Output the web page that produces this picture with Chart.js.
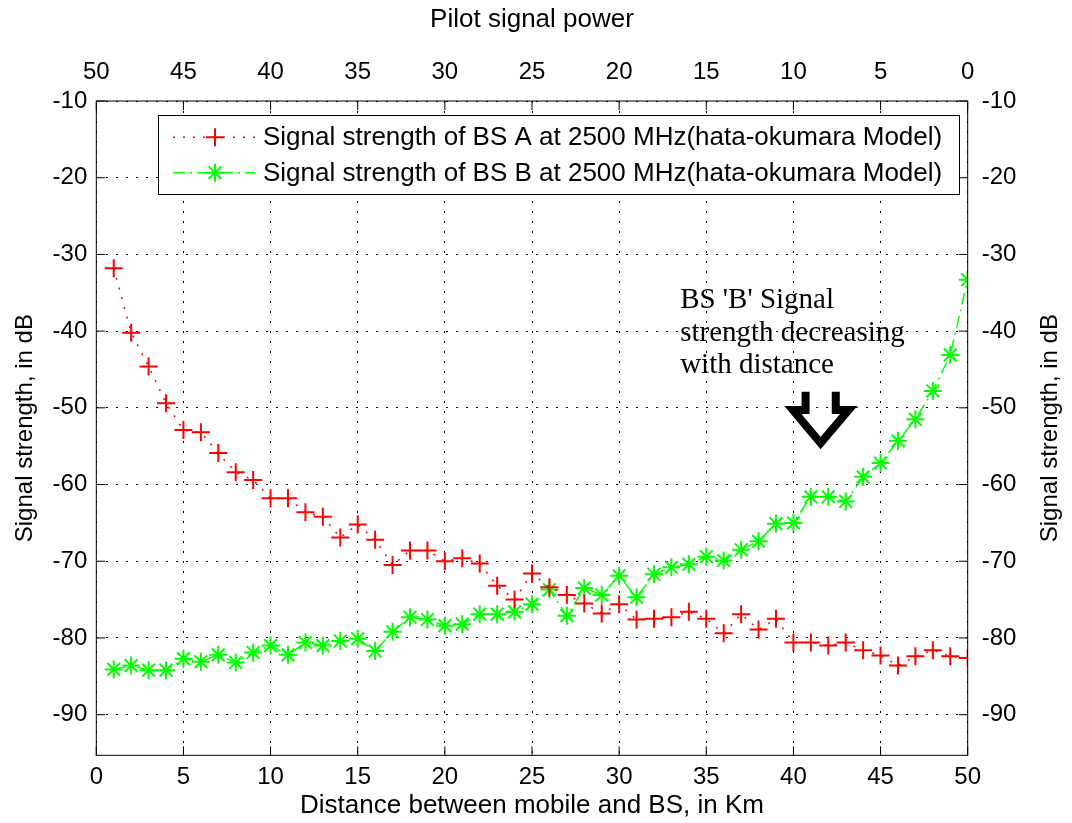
<!DOCTYPE html>
<html>
<head>
<meta charset="utf-8">
<script src="https://cdn.jsdelivr.net/npm/chart.js@4/dist/chart.umd.min.js"></script>
<style>
html,body{margin:0;padding:0;background:#fff;}
#wrap{width:1072px;height:823px;position:relative;}
</style>
</head>
<body>
<div id="wrap"><canvas id="c" width="1072" height="823"></canvas></div>
<script>
// ---------------- data ----------------
const distanceKm = [1,2,3,4,5,6,7,8,9,10,11,12,13,14,15,16,17,18,19,20,21,22,23,24,25,26,27,28,29,30,31,32,33,34,35,36,37,38,39,40,41,42,43,44,45,46,47,48,49,50];
const bsA = [-31.8,-40.2,-44.6,-49.4,-52.9,-53.2,-55.9,-58.4,-59.4,-61.8,
             -61.8,-63.6,-64.2,-66.9,-65.2,-67.2,-70.5,-68.6,-68.6,-70.0,
             -69.6,-70.3,-73.2,-75.0,-71.6,-73.4,-74.4,-75.5,-76.8,-75.6,
             -77.6,-77.5,-77.3,-76.6,-77.5,-79.4,-76.9,-78.9,-77.5,-80.6,
             -80.6,-81.0,-80.6,-81.6,-82.3,-83.6,-82.4,-81.6,-82.4,-82.6];
const bsB = [-84.1,-83.6,-84.2,-84.2,-82.7,-83.1,-82.2,-83.2,-81.9,-81.0,
             -82.2,-80.6,-81.0,-80.4,-80.1,-81.7,-79.2,-77.3,-77.6,-78.4,
             -78.2,-76.9,-76.9,-76.6,-75.6,-73.7,-77.1,-73.5,-74.4,-71.9,
             -74.7,-71.7,-70.8,-70.4,-69.4,-69.9,-68.5,-67.4,-65.1,-65.0,
             -61.6,-61.6,-62.2,-59.0,-57.2,-54.3,-51.5,-47.8,-43.1,-33.3];
const xTickValues = [0,5,10,15,20,25,30,35,40,45,50];
const pilotTickValues = [50,45,40,35,30,25,20,15,10,5,0];
const yTickValues = [-90,-80,-70,-60,-50,-40,-30,-20,-10];
const seriesNames = ['Signal strength of BS A at 2500 MHz(hata-okumara Model)',
                     'Signal strength of BS B at 2500 MHz(hata-okumara Model)'];
const xTitle = 'Distance between mobile and BS, in Km';
const topTitle = 'Pilot signal power';
const yTitle = 'Signal strength, in dB';
const annotationLines = ["BS 'B' Signal", 'strength decreasing', 'with distance'];
const annotationAnchor = [33.5, -35.9];           // data coords of first text line (left, middle)
const arrowX = [40.70, 40.70, 39.97, 41.56, 43.17, 42.43, 42.43];
const arrowY = [-47.9, -50.3, -50.3, -54.6, -50.3, -50.3, -47.9];

// ---------------- layout constants ----------------
const W = 1072, H = 823;
const AREA = {left: 96.3, right: 967.7, top: 101, bottom: 755.3};
const Y_MIN = -95.3, Y_MAX = -10;
const SANS = "'Liberation Sans', Arial, sans-serif";

Chart.defaults.font.family = SANS;
Chart.defaults.color = '#000';

function toTicks(vals){ return vals.map(v => ({value: v})); }

function drawMarker(ctx, style, x, y, r){
  ctx.beginPath();
  ctx.moveTo(x - r, y); ctx.lineTo(x + r, y);
  ctx.moveTo(x, y - r); ctx.lineTo(x, y + r);
  if (style === 'star') {
    const d = r * Math.SQRT1_2;
    ctx.moveTo(x - d, y - d); ctx.lineTo(x + d, y + d);
    ctx.moveTo(x - d, y + d); ctx.lineTo(x + d, y - d);
  }
  ctx.stroke();
}

const frameTicksPlugin = {
  id: 'frameTicks',
  afterDatasetsDraw(chart){
    const {ctx, chartArea: a, scales} = chart;
    ctx.save();
    ctx.strokeStyle = '#000';
    ctx.lineWidth = 1;
    ctx.setLineDash([]);
    const tl = 9;
    ctx.beginPath();
    xTickValues.forEach(v => {
      const px = scales.x.getPixelForValue(v);
      ctx.moveTo(px, a.bottom); ctx.lineTo(px, a.bottom - tl);
      ctx.moveTo(px, a.top); ctx.lineTo(px, a.top + tl);
    });
    yTickValues.forEach(v => {
      const py = scales.y.getPixelForValue(v);
      ctx.moveTo(a.left, py); ctx.lineTo(a.left + tl, py);
      ctx.moveTo(a.right, py); ctx.lineTo(a.right - tl, py);
    });
    ctx.stroke();
    ctx.strokeRect(a.left, a.top, a.right - a.left, a.bottom - a.top);
    ctx.restore();
  }
};

// right-hand axis title reads bottom-to-top, like the left one
const rightTitlePlugin = {
  id: 'rightTitle',
  afterDraw(chart){
    const {ctx, chartArea: a} = chart;
    ctx.save();
    ctx.fillStyle = '#000';
    ctx.font = '24px ' + SANS;
    ctx.textAlign = 'center'; ctx.textBaseline = 'middle';
    ctx.translate(1050, (a.top + a.bottom) / 2);
    ctx.rotate(-Math.PI / 2);
    ctx.fillText(yTitle, 0, 0);
    ctx.restore();
  }
};

const legendPlugin = {
  id: 'matlabLegend',
  afterDraw(chart){
    const {ctx} = chart;
    const ds = chart.data.datasets;
    ctx.save();
    ctx.font = '26px ' + SANS;
    const left = 158.5, top = 115.5, bottom = 194.5;
    const textX = 263;
    const maxW = Math.max(...ds.map(d => ctx.measureText(d.label).width));
    const right = Math.round(textX + maxW + 17) + 0.5;
    ctx.fillStyle = '#fff';
    ctx.fillRect(left, top, right - left, bottom - top);
    ctx.strokeStyle = '#000'; ctx.lineWidth = 1; ctx.setLineDash([]);
    ctx.strokeRect(left, top, right - left, bottom - top);
    const rows = [137.3, 172.7];
    ds.forEach((d, i) => {
      const y = rows[i];
      ctx.strokeStyle = d.borderColor;
      ctx.lineWidth = d.borderWidth;
      ctx.setLineDash(d.borderDash || []);
      ctx.beginPath(); ctx.moveTo(173, y); ctx.lineTo(255, y); ctx.stroke();
      ctx.setLineDash([]);
      ctx.lineWidth = d.pointBorderWidth;
      drawMarker(ctx, d.pointStyle, 215, y, d.pointRadius);
      ctx.fillStyle = '#000';
      ctx.textAlign = 'left'; ctx.textBaseline = 'middle';
      ctx.fillText(d.label, textX, y + 1);
    });
    ctx.restore();
  }
};

const annotationPlugin = {
  id: 'annot',
  afterDraw(chart){
    const {ctx, scales} = chart;
    ctx.save();
    ctx.fillStyle = '#000';
    ctx.font = "29px 'Liberation Serif', 'Times New Roman', serif";
    ctx.textAlign = 'left'; ctx.textBaseline = 'middle';
    const tx = scales.x.getPixelForValue(annotationAnchor[0]);
    const ty = scales.y.getPixelForValue(annotationAnchor[1]);
    annotationLines.forEach((s, i) => ctx.fillText(s, tx, ty + 1 + i * 32.5));
    ctx.strokeStyle = '#000';
    ctx.lineWidth = 8;
    ctx.lineJoin = 'miter';
    ctx.lineCap = 'butt';
    ctx.beginPath();
    arrowX.forEach((xv, i) => {
      const px = scales.x.getPixelForValue(xv), py = scales.y.getPixelForValue(arrowY[i]);
      if (i === 0) ctx.moveTo(px, py); else ctx.lineTo(px, py);
    });
    ctx.stroke();
    ctx.restore();
  }
};

const tickFont = {size: 24, family: SANS};
const xTitleFont = {size: 26, family: SANS};
const yTitleFont = {size: 24, family: SANS};

new Chart(document.getElementById('c'), {
  type: 'scatter',
  data: {
    datasets: [
      {
        label: seriesNames[0],
        data: distanceKm.map((d, i) => ({x: d, y: bsA[i]})),
        showLine: true,
        borderColor: '#ff0000',
        backgroundColor: '#ff0000',
        borderWidth: 1.5,
        borderDash: [2, 8],
        pointStyle: 'cross',
        pointRadius: 9,
        pointBorderWidth: 2,
        pointBorderColor: '#ff0000',
        pointBackgroundColor: '#ff0000',
        tension: 0,
        fill: false
      },
      {
        label: seriesNames[1],
        data: distanceKm.map((d, i) => ({x: d, y: bsB[i]})),
        showLine: true,
        borderColor: '#00ff00',
        backgroundColor: '#00ff00',
        borderWidth: 1.5,
        borderDash: [12, 5, 2, 5],
        pointStyle: 'star',
        pointRadius: 9,
        pointBorderWidth: 2,
        pointBorderColor: '#00ff00',
        pointBackgroundColor: '#00ff00',
        tension: 0,
        fill: false
      }
    ]
  },
  options: {
    responsive: false,
    animation: false,
    events: [],
    devicePixelRatio: 1,
    layout: {padding: 0},
    plugins: {legend: {display: false}, title: {display: false}, tooltip: {enabled: false}},
    scales: {
      x: {
        type: 'linear', position: 'bottom', min: 0, max: 50,
        afterBuildTicks: s => { s.ticks = toTicks(xTickValues); },
        afterFit: s => { s.height = H - AREA.bottom; },
        grid: {display: true, color: '#000', lineWidth: 1, drawTicks: false},
        border: {display: false, dash: [2, 8]},
        ticks: {font: tickFont, color: '#000', padding: 8, maxRotation: 0, autoSkip: false},
        title: {display: true, text: xTitle, font: xTitleFont, color: '#000', padding: {top: 0, bottom: 2}}
      },
      x2: {
        type: 'linear', position: 'top', min: 0, max: 50, reverse: true,
        afterBuildTicks: s => { s.ticks = toTicks(pilotTickValues); },
        afterFit: s => { s.height = AREA.top; },
        grid: {display: false, drawTicks: false},
        border: {display: false},
        ticks: {font: tickFont, color: '#000', padding: 14.6, maxRotation: 0, autoSkip: false},
        title: {display: true, text: topTitle, font: xTitleFont, color: '#000', padding: {top: 4, bottom: 0}}
      },
      y: {
        type: 'linear', position: 'left', min: Y_MIN, max: Y_MAX,
        afterBuildTicks: s => { s.ticks = toTicks(yTickValues); },
        afterFit: s => { s.width = AREA.left; },
        grid: {display: true, color: '#000', lineWidth: 1, drawTicks: false},
        border: {display: false, dash: [2, 8]},
        ticks: {font: tickFont, color: '#000', padding: 9, autoSkip: false},
        title: {display: true, text: yTitle, font: yTitleFont, color: '#000', padding: {top: 11, bottom: 0}}
      },
      y2: {
        type: 'linear', position: 'right', min: Y_MIN, max: Y_MAX,
        afterBuildTicks: s => { s.ticks = toTicks(yTickValues); },
        afterFit: s => { s.width = W - AREA.right; },
        grid: {display: false, drawTicks: false},
        border: {display: false},
        ticks: {font: tickFont, color: '#000', padding: 14, autoSkip: false},
        title: {display: false}
      }
    }
  },
  plugins: [frameTicksPlugin, legendPlugin, annotationPlugin, rightTitlePlugin]
});
</script>
</body>
</html>
